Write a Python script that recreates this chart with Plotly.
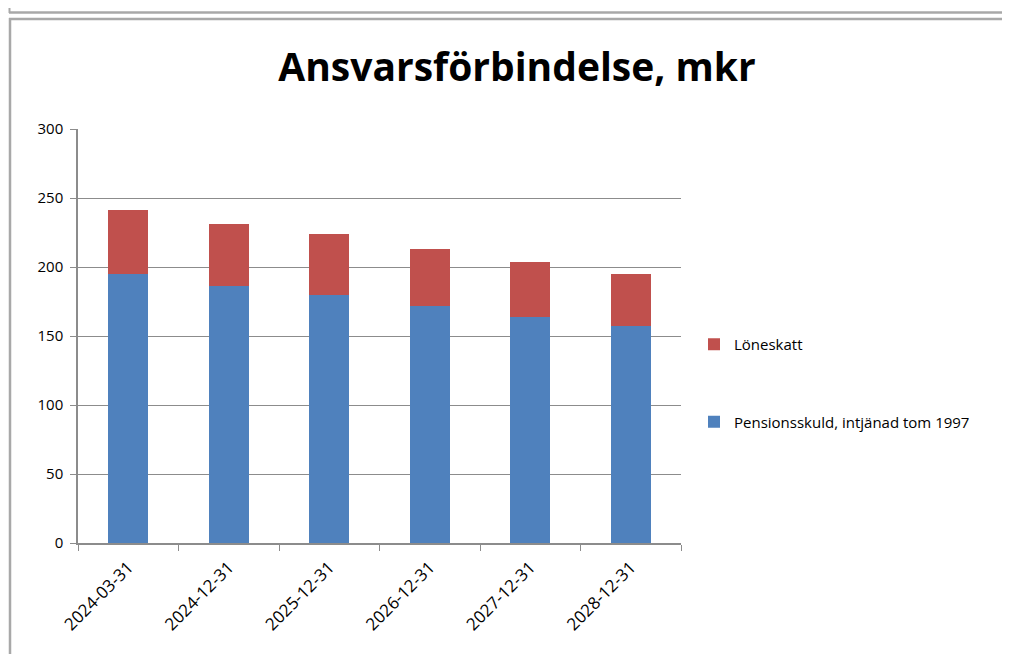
import plotly.graph_objects as go

categories = ["2024-03-31", "2024-12-31", "2025-12-31", "2026-12-31", "2027-12-31", "2028-12-31"]
pensionsskuld = [195, 186, 180, 171.5, 164, 157]
loneskatt = [46.5, 45, 43.7, 41.7, 39.6, 38]
y_ticks = [0, 50, 100, 150, 200, 250, 300]

# page body has an 8px margin; work in screen pixels and convert
OFF = 8
W, H = 1010, 654
L, R, T, B = 78 - OFF, 1010 - (681 - OFF), 129 - OFF, 654 - (543 - OFF)
pw = W - L - R
ph = H - T - B

def px(x):
    return (x - OFF - L) / pw

def py(y):
    return (H - B - (y - OFF)) / ph

font_family = "'Open Sans', Lato, sans-serif"

fig = go.Figure()
fig.add_trace(go.Bar(
    x=categories, y=pensionsskuld, name="Pensionsskuld, intjänad tom 1997",
    marker=dict(color="#4F81BD", line=dict(width=0)), legendgroup="a", legendrank=2,
))
fig.add_trace(go.Bar(
    x=categories, y=loneskatt, name="Löneskatt",
    marker=dict(color="#C0504D", line=dict(width=0)), legendgroup="b", legendrank=1,
))

grid = "#8C8C8C"
fig.update_layout(
    width=W, height=H,
    margin=dict(l=L, r=R, t=T, b=B),
    paper_bgcolor="white", plot_bgcolor="white",
    barmode="stack", bargap=0.6,
    font=dict(family=font_family, size=14, color="#000000"),
    title=dict(text="<b>Ansvarsförbindelse, mkr</b>", x=(517 - OFF) / W, xanchor="center",
               y=1 - (67 - OFF) / H, yanchor="middle",
               font=dict(family=font_family, size=39, color="#000000")),
    showlegend=True,
    legend=dict(x=px(694), xanchor="left", y=py(328), yanchor="top",
                traceorder="grouped", tracegroupgap=55,
                font=dict(size=15, family=font_family), bgcolor="rgba(0,0,0,0)",
                itemwidth=30),
    xaxis=dict(type="category", showline=True, linecolor=grid, linewidth=1.5,
               ticks="outside", ticklen=6, tickcolor=grid, tickson="boundaries",
               tickangle=-45, tickfont=dict(size=17), showgrid=False,
               ticklabelstandoff=6, range=[-0.5, 5.5]),
    yaxis=dict(range=[0, 300], tickvals=y_ticks, showline=True, linecolor=grid,
               linewidth=1.5, ticks="outside", ticklen=6, tickcolor=grid,
               showgrid=True, gridcolor=grid, gridwidth=1.2, zeroline=False,
               tickfont=dict(size=15), ticklabelstandoff=4),
)

frame = "#A8A8A8"
shapes = [
    dict(type="line", xref="paper", yref="paper", x0=px(9), x1=px(1030), y0=py(12.5), y1=py(12.5),
         line=dict(color=frame, width=2.5)),
    dict(type="line", xref="paper", yref="paper", x0=px(9.5), x1=px(9.5), y0=py(8), y1=py(13),
         line=dict(color=frame, width=2)),
    dict(type="line", xref="paper", yref="paper", x0=px(9), x1=px(1030), y0=py(19), y1=py(19),
         line=dict(color=frame, width=2.5)),
    dict(type="line", xref="paper", yref="paper", x0=px(10), x1=px(10), y0=py(18), y1=py(670),
         line=dict(color=frame, width=2.5)),
]
fig.update_layout(shapes=shapes)

fig.write_html("out.html")
